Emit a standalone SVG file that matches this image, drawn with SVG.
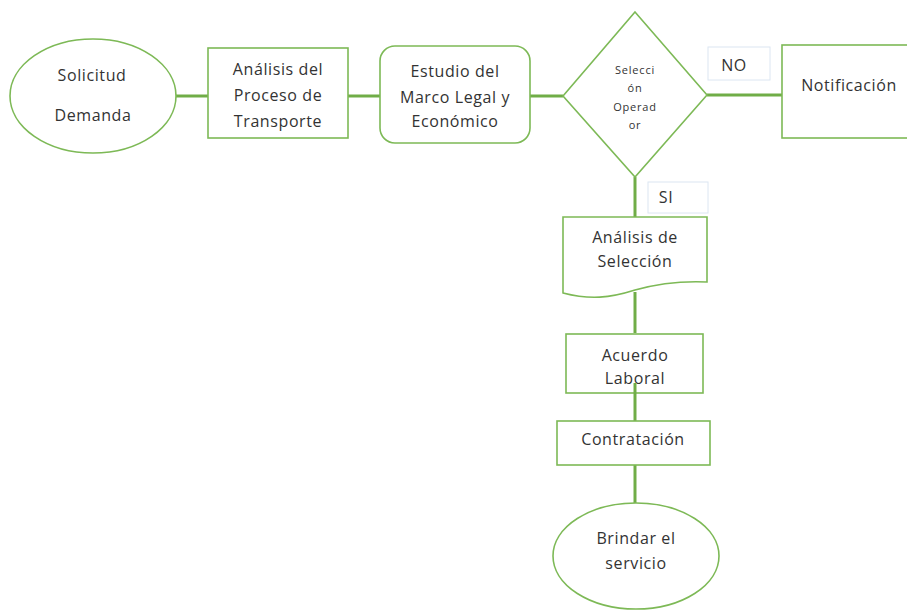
<svg xmlns="http://www.w3.org/2000/svg" width="907" height="610" viewBox="0 0 907 610">
<style>
.s{fill:#fff;stroke:#7DB956;stroke-width:1.6}
.c{fill:none;stroke:#70AD47;stroke-width:3}
.lb{fill:#fff;stroke:#DCE6F2;stroke-width:1}
text{font-family:"Open Sans","Liberation Sans",sans-serif;font-size:16px;letter-spacing:0.6px;fill:#333;text-anchor:middle}
.sm{font-size:11px;letter-spacing:0.8px}
</style>
<rect width="907" height="610" fill="#fff"/>
<g id="connectors">
<line class="c" x1="176" y1="96" x2="208" y2="96"/>
<line class="c" x1="348" y1="96" x2="380" y2="96"/>
<line class="c" x1="530" y1="96" x2="563" y2="96"/>
<line class="c" x1="707" y1="95" x2="782" y2="95"/>
<line class="c" x1="635" y1="177" x2="635" y2="217"/>
<line class="c" x1="635" y1="292" x2="635" y2="333"/>
<line class="c" x1="635" y1="465" x2="635" y2="503"/>
</g>
<g id="solicitud">
<ellipse class="s" cx="93" cy="96" rx="83" ry="57"/>
<text x="92" y="81">Solicitud</text>
<text x="93" y="121">Demanda</text>
</g>
<g id="analisis-proceso">
<rect class="s" x="208" y="48" width="140" height="90"/>
<text x="278" y="75">Análisis del</text>
<text x="278" y="101">Proceso de</text>
<text x="278" y="127">Transporte</text>
</g>
<g id="estudio">
<rect class="s" x="380" y="46" width="150" height="97" rx="15"/>
<text x="455" y="77">Estudio del</text>
<text x="455" y="103">Marco Legal y</text>
<text x="455" y="127">Económico</text>
</g>
<g id="decision">
<polygon class="s" points="635,12 707,95 635,177 563,96"/>
<text class="sm" x="635" y="74">Selecci</text>
<text class="sm" x="635" y="92">ón</text>
<text class="sm" x="635" y="111">Operad</text>
<text class="sm" x="635" y="129">or</text>
</g>
<g id="label-no">
<rect class="lb" x="708" y="47" width="62" height="33"/>
<text x="734" y="71">NO</text>
</g>
<g id="notificacion">
<rect class="s" x="782" y="45" width="140" height="93"/>
<text x="849" y="91">Notificación</text>
</g>
<g id="label-si">
<rect class="lb" x="648" y="182" width="60" height="31"/>
<text x="666" y="203">SI</text>
</g>
<g id="analisis-seleccion">
<path class="s" d="M563,217 H707 V282 C685,281 660,283 635,290 C610,298 590,300 563,293 Z"/>
<text x="635" y="243">Análisis de</text>
<text x="635" y="267">Selección</text>
</g>
<g id="acuerdo">
<rect class="s" x="566" y="334" width="137" height="59"/>
<text x="635" y="361">Acuerdo</text>
<text x="635" y="384">Laboral</text>
</g>
<line class="c" x1="635" y1="383" x2="635" y2="421"/>
<g id="contratacion">
<rect class="s" x="557" y="421" width="153" height="44"/>
<text x="633" y="445">Contratación</text>
</g>
<g id="brindar">
<ellipse class="s" cx="636" cy="556" rx="83" ry="53"/>
<text x="636" y="544">Brindar el</text>
<text x="636" y="569">servicio</text>
</g>
</svg>
